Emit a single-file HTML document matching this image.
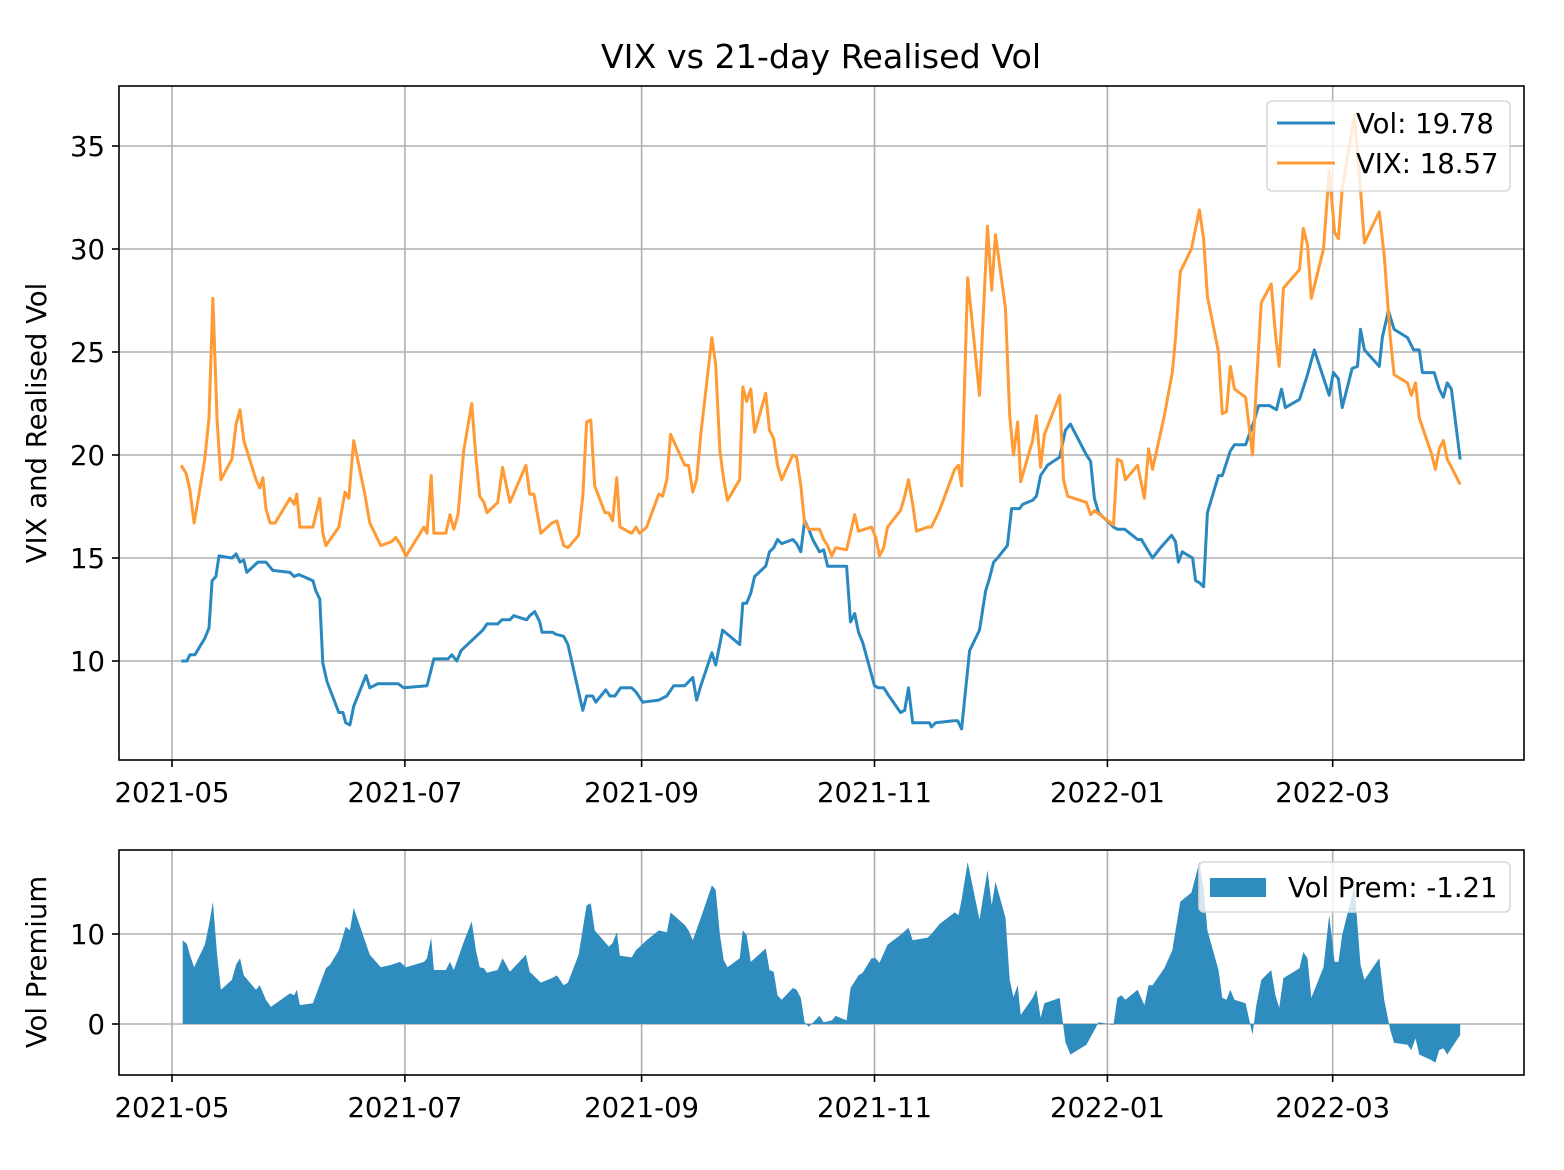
<!DOCTYPE html>
<html><head><meta charset="utf-8"><style>
html,body{margin:0;padding:0;background:#fff;}
svg{display:block;font-family:"DejaVu Sans","Liberation Sans",sans-serif;}
</style></head><body>
<svg id="chart" width="1564" height="1170" viewBox="0 0 1564 1170" xmlns="http://www.w3.org/2000/svg">
<rect width="1564" height="1170" fill="#fff"/>
<text x="821" y="68" font-size="33.3" text-anchor="middle">VIX vs 21-day Realised Vol</text>
<g id="gtop"></g>
<g id="gbot"></g>
</svg>
<script>
// dates as days since 2021-05-01
const vixDays=[2.4,3.7,4.7,5.8,6.8,8.6,9.7,10.7,11.8,12.8,15.7,16.8,17.8,18.8,22,23,23.8,24.6,25.7,27,30.9,32,32.7,33.5,36.9,38.7,39.5,40.3,43.7,45.3,46.3,47.6,50.5,51.8,54.7,57.6,58.6,59.7,61.3,66,66.8,67.9,68.6,71.7,72.8,73.8,74.9,76.4,78.5,79.6,80.6,81.7,82.5,85.3,86.6,88.5,92.7,93.7,94.8,96.6,99.5,100.8,102.6,103.7,106.5,107.6,108.6,109.7,110.7,113.4,114.4,115.4,116.5,117.3,120.4,121.5,122.5,124.3,127.5,128.5,129.6,130.6,134.3,135.3,136.4,137.4,138.5,141.4,142.4,143.5,144.5,145.5,148.7,149.5,150.5,151.6,152.6,155.5,156.5,157.6,158.6,159.7,162.6,163.6,164.7,165.7,166.8,169.6,170.7,171.7,172.8,173.8,176.7,178.8,179.8,183.2,184.3,185.3,186.4,187.4,190.8,191.9,192.9,194,195,197.9,198.9,201,205,206,206.8,208.4,211.5,213.6,214.7,215.7,218.3,219.4,220.4,221.5,222.3,225.4,226.4,227.5,228.5,232.5,233.5,234.6,239.5,240.6,241.6,246.6,247.6,248.7,249.7,252.9,254.7,255.8,256.8,259.9,262,262.8,264.1,267,269.1,270.2,271.2,274.1,275.1,276.2,277.2,278.3,281.2,283,284,285.3,287.9,289,290,291.1,295.3,296.3,297.4,298.4,301.6,303.1,304.5,305.5,306.5,309.7,311.3,312.3,316.2,317.5,319.1,320.1,323.6,324.6,325.7,326.7,329.8,330.9,331.9,333,334,337.4];
const vixVals=[19.5,19.1,18.3,16.7,17.8,19.8,21.8,27.6,21.7,18.8,19.8,21.5,22.2,20.7,18.8,18.4,18.9,17.4,16.7,16.7,17.9,17.6,18.1,16.5,16.5,17.9,16.2,15.6,16.5,18.2,17.9,20.7,18.1,16.7,15.6,15.8,16,15.7,15.1,16.5,16.2,19,16.2,16.2,17.1,16.4,17.1,20.2,22.5,19.9,18,17.7,17.2,17.7,19.4,17.7,19.5,18.1,18.1,16.2,16.7,16.8,15.6,15.5,16.1,18,21.6,21.7,18.5,17.2,17.2,16.8,18.9,16.5,16.2,16.5,16.2,16.5,18.1,18,18.8,21,19.5,19.5,18.2,18.8,21,25.7,24.4,20.2,18.8,17.8,18.8,23.3,22.6,23.2,21.1,23,21.2,20.8,19.5,18.8,20,19.9,18.5,16.7,16.4,16.4,15.9,15.6,15.1,15.5,15.4,17.1,16.3,16.5,16,15.1,15.5,16.5,17.3,18,18.8,17.6,16.3,16.5,16.5,17.3,19.3,19.5,18.5,28.6,22.9,31.1,28,30.7,27.1,21.9,20,21.6,18.7,20.7,21.9,19.4,21,22.9,18.8,18,17.7,17.1,17.3,16.6,19.8,19.7,18.8,19.5,17.9,20.3,19.3,21.9,24,25.6,28.9,30,31.9,30.5,27.7,25,22,22.1,24.3,23.2,22.8,20,23.3,27.4,28.3,25.9,24.3,28.1,29,31,30.2,27.6,30,33.8,30.8,30.5,32.9,36.5,32.9,30.3,31.8,29.7,25.7,23.9,23.5,22.9,23.5,21.8,20.1,19.3,20.3,20.7,19.8,18.57];
const volDays=[2.4,3.9,4.7,6,8.6,9.7,10.5,11.5,12.3,15.7,16.8,17.8,18.8,19.6,22.5,24.6,26.4,30.9,32,33.2,36.9,37.7,38.7,39.5,40.6,43.7,44.8,45.5,46.6,47.6,50.8,51.8,52.9,53.9,59.2,60.7,66.8,68.6,72.3,73.3,74.6,75.7,81.4,82.5,85.3,86.4,88.5,89.5,92.9,93.7,95,96.3,96.9,99.7,100.5,102.6,103.7,107.6,108.6,110.2,111,113.6,114.7,116,117.5,120.4,121.5,123.3,127.5,129.6,131.4,134.3,136.4,137.4,138.5,141.4,142.4,144.2,148.7,149.5,150.5,151.6,152.6,155.5,156.5,157.6,158.6,159.7,162.6,163.6,164.7,165.7,166.8,167.8,169.6,170.7,171.7,176.7,177.7,178.8,179.8,180.9,184,185,186.4,187.8,190.8,191.9,192.9,194,198.4,198.9,200,204.7,205.8,206.8,208.9,211.5,213.1,214.1,215.2,216.2,218.8,219.9,222,222.8,225.4,226.4,227.5,229.3,232.5,234,235.3,239.5,240.6,241.6,242.7,246.6,247.6,249.5,252.9,253.9,256.8,258.9,261.8,262.8,263.6,264.6,267.3,268.1,269.1,270.2,271.2,274.1,275.1,277.2,278.3,281.2,283.5,284.6,287.4,289.3,290.6,291.6,295.3,297.4,299.2,303.1,304.2,305.5,306.5,309.1,310.5,311.3,312.3,316.2,317,318.6,320.1,323.6,325.2,326.7,327.5,330.6,331.9,333,334,335.1,337.4];
const volVals=[10,10,10.3,10.3,11.1,11.6,13.9,14.1,15.1,15,15.2,14.8,14.9,14.3,14.8,14.8,14.4,14.3,14.1,14.2,13.9,13.4,13,9.9,9,7.5,7.5,7,6.9,7.8,9.3,8.7,8.8,8.9,8.9,8.7,8.8,10.1,10.1,10.3,10,10.5,11.5,11.8,11.8,12,12,12.2,12,12.2,12.4,11.9,11.4,11.4,11.3,11.2,10.8,7.6,8.3,8.3,8,8.6,8.3,8.3,8.7,8.7,8.5,8,8.1,8.3,8.8,8.8,9.2,8.1,8.8,10.4,9.8,11.5,10.8,12.8,12.8,13.3,14.1,14.6,15.3,15.5,15.9,15.7,15.9,15.7,15.3,16.8,16.4,15.9,15.3,15.4,14.6,14.6,11.9,12.3,11.4,10.9,8.8,8.7,8.7,8.3,7.5,7.6,8.7,7,7,6.8,7,7.1,7.1,6.7,10.5,11.5,13.4,14,14.8,15,15.6,17.4,17.4,17.6,17.8,18,19,19.5,19.9,21.2,21.5,20,19.7,17.9,17.2,16.5,16.4,16.4,15.9,15.9,15,15.5,16.1,15.8,14.8,15.3,15,13.9,13.8,13.6,17.2,19,19,20.2,20.5,20.5,21.7,22.4,22.4,22.2,23.2,22.3,22.7,23.9,25.1,22.9,24,23.7,22.3,24.2,24.3,26.1,25.1,24.3,25.7,27,26.1,25.7,25.1,25.1,24,24,23.2,22.8,23.5,23.2,19.78];
const premDays=[2.8,3.9,4.7,5.8,8.6,9.7,10.7,11.8,12.8,15.7,16.8,17.8,18.8,22,23,24.6,25.9,30.9,32,32.7,33.5,36.9,40.3,41.4,43.7,45.5,46.6,47.6,50.5,51.8,54.7,57.6,59.7,61.3,66,66.8,67.9,68.6,71.7,72.8,73.8,76.4,78.5,79.6,80.6,81.7,82.5,85.3,86.6,88.5,92.7,93.7,96.6,99.5,100.8,102.6,103.7,106.5,108.6,109.7,110.7,113.4,114.4,115.4,116.5,117.3,120.4,121.5,124.3,127.5,129.6,130.6,134.3,135.3,136.4,138.5,141.4,142.4,143.5,144.5,145.5,148.7,149.5,150.5,151.6,155.5,156.5,157.6,158.6,159.7,162.6,163.6,164.7,165.7,166.8,169.6,170.7,172.8,173.8,176.7,177.7,179.8,180.9,183.2,184.3,185.3,187.4,190.8,192.9,194,197.9,198.9,201,205,206,206.8,208.4,211.5,213.6,214.7,215.7,218.3,219.4,220.4,221.5,222.3,225.4,226.4,227.5,228.5,232.5,234,235.3,239.5,241.6,242.7,246.6,247.6,248.7,249.7,252.9,254.7,255.8,256.8,259.9,262,264.1,267,269.1,270.2,271.2,274.1,275.1,276.2,277.2,278.3,281.2,283,284,285.3,287.9,289,290,291.1,295.3,296.3,297.4,298.4,301.6,303.1,304.5,305.5,306.5,309.7,311.3,312.3,316.2,317.5,319.1,320.1,323.6,324.6,325.7,326.7,329.8,330.9,331.9,333,334,337.4];
const premVals=[9.3,8.9,7.7,6.3,8.8,11,13.6,7.7,3.8,4.9,6.6,7.3,5.4,3.8,4.3,2.7,1.9,3.4,3.2,3.8,2.1,2.3,6.2,6.6,8.2,10.8,10.4,12.9,9.3,7.7,6.3,6.6,6.9,6.3,6.9,7.3,9.6,6,6,6.9,6,9.1,11.4,8.2,6.3,6.2,5.7,6,7.3,5.8,7.7,5.8,4.6,5.1,5.4,4.3,4.6,7.7,13.2,13.4,10.4,9.1,8.6,9,10.2,7.6,7.4,8.2,9.3,10.4,10.2,12.4,11,10.4,9.3,11.8,15.4,14.9,9.9,7.1,6.3,7.3,10.4,9.9,6.9,8.4,6,5.8,3.2,2.7,4,3.8,2.9,0.2,-0.3,0.9,0.2,0.4,0.9,0.4,4,5.4,5.7,7.3,7.3,6.8,8.8,9.9,10.7,9.3,9.6,10,11.1,12.4,12.1,13.8,18,11.6,17.1,13.2,15.8,11.8,4.9,3,4.3,1,2.9,3.8,0.7,2.3,2.9,-2,-3.4,-2.3,-0.7,0.2,-0.1,2.9,3.2,2.7,3.8,2.1,4.3,4.3,6.2,8.2,13.6,14.6,18,15.1,10.4,6,2.9,2.7,3.8,2.7,2.3,-1.2,2.1,4.9,6,3.2,1.8,5.1,6.2,8,7.3,2.9,6.3,12.1,6.9,6.9,9.9,15.4,6.6,4.9,7.3,2.7,-0.7,-2.1,-2.3,-2.9,-1.6,-3.4,-4,-4.3,-2.9,-2.7,-3.4,-1.21];
const xTickDays=[0,61,123,184,245,304];
const xTickLabels=["2021-05","2021-07","2021-09","2021-11","2022-01","2022-03"];
const topTicks=[10,15,20,25,30,35];
const botTicks=[0,10];
const legendTop=["Vol: 19.78","VIX: 18.57"];
const legendBot="Vol Prem: -1.21";

const NS="http://www.w3.org/2000/svg";
const L=119,R=1524;
const xs=d=>172+d*3.818;
const yTop=v=>661-(v-10)*20.6;
const yBot=v=>1024-v*9;
function mk(p,tag,attrs){const e=document.createElementNS(NS,tag);for(const k in attrs)e.setAttribute(k,attrs[k]);p.appendChild(e);return e;}
function axes(g,T,B,ticks,yf,prefix){
  for(let i=0;i<xTickDays.length;i++){const x=xs(xTickDays[i]);
    const gl=mk(g,'line',{x1:x,x2:x,y1:T,y2:B,stroke:'#b0b0b0','stroke-width':1.6});
    
    
    const tk=mk(g,'line',{x1:x,x2:x,y1:B,y2:B+7,stroke:'#000','stroke-width':1.6});
    
    
    const t=mk(g,'text',{x:x,y:B+42,'font-size':27.5,'text-anchor':'middle'});t.textContent=xTickLabels[i];
    
    }
  for(const v of ticks){const y=yf(v);
    const gl=mk(g,'line',{x1:L,x2:R,y1:y,y2:y,stroke:'#b0b0b0','stroke-width':1.6});
    
    
    const tk=mk(g,'line',{x1:L-7,x2:L,y1:y,y2:y,stroke:'#000','stroke-width':1.6});
    
    
    const t=mk(g,'text',{x:L-14,y:y+10,'font-size':27.5,'text-anchor':'end'});t.textContent=v;
    
    }
}
const gTop=document.getElementById('gtop'),gBot=document.getElementById('gbot');




axes(gTop,86,760,topTicks,yTop,'main');
axes(gBot,850,1075,botTicks,yBot,'premium');
function pts(ds,vs,yf){const n=Math.min(ds.length,vs.length);const out=[];for(let i=0;i<n;i++)out.push(xs(ds[i]).toFixed(1)+','+yf(vs[i]).toFixed(1));return out.join(' ');}
const volLine=mk(gTop,'polyline',{points:pts(volDays,volVals,yTop),fill:'none',stroke:'#2a88c0','stroke-width':3,'stroke-linejoin':'round'});


const vixLine=mk(gTop,'polyline',{points:pts(vixDays,vixVals,yTop),fill:'none',stroke:'#ff9a35','stroke-width':3,'stroke-linejoin':'round'});


const z=yBot(0);
const nP=Math.min(premDays.length,premVals.length);
const area=mk(gBot,'polygon',{points:xs(premDays[0]).toFixed(1)+','+z+' '+pts(premDays,premVals,yBot)+' '+xs(premDays[nP-1]).toFixed(1)+','+z,fill:'#2e8cbf'});


const f1=mk(gTop,'rect',{x:L,y:86,width:R-L,height:674,fill:'none',stroke:'#000','stroke-width':1.6});


const f2=mk(gBot,'rect',{x:L,y:850,width:R-L,height:225,fill:'none',stroke:'#000','stroke-width':1.6});


const yl1=mk(gTop,'text',{x:46,y:423,'font-size':27.5,'text-anchor':'middle',transform:'rotate(-90 46 423)'});yl1.textContent='VIX and Realised Vol';


const yl2=mk(gBot,'text',{x:46,y:962,'font-size':27.5,'text-anchor':'middle',transform:'rotate(-90 46 962)'});yl2.textContent='Vol Premium';


const lg=mk(gTop,'g',{});


mk(lg,'rect',{x:1267,y:101,width:243,height:90,rx:5,fill:'rgba(255,255,255,0.8)',stroke:'#d8d8d8','stroke-width':1.6});
const cols=['#2a88c0','#ff9a35'];
for(let i=0;i<2;i++){const y=123+i*40;
  const ln=mk(lg,'line',{x1:1277,x2:1335,y1:y,y2:y,stroke:cols[i],'stroke-width':3});
  
  
  const t=mk(lg,'text',{x:1356,y:y+10,'font-size':27.5});t.textContent=legendTop[i];
  
  }
const lb=mk(gBot,'g',{});


mk(lb,'rect',{x:1199,y:862,width:311,height:50,rx:5,fill:'rgba(255,255,255,0.8)',stroke:'#d8d8d8','stroke-width':1.6});
const sw=mk(lb,'rect',{x:1210,y:878,width:56,height:19,fill:'#2e8cbf'});


const lt=mk(lb,'text',{x:1288,y:897,'font-size':27.5});lt.textContent=legendBot;


</script>
</body></html>
